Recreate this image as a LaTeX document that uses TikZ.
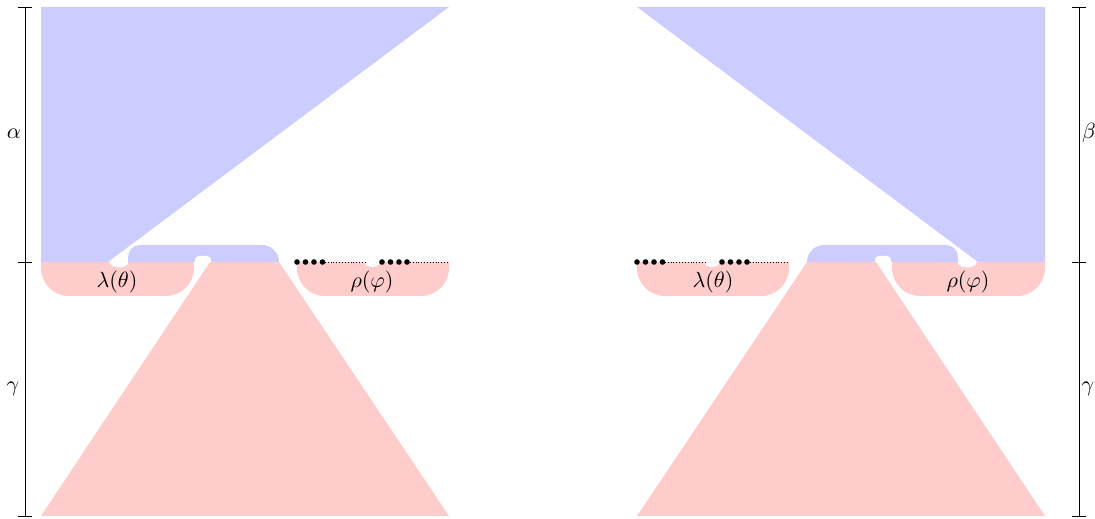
\documentclass[tikz,border=0pt]{standalone}
\definecolor{bl}{RGB}{204,204,255}
\definecolor{pk}{RGB}{255,204,204}
\tikzset{
  axisline/.style={line width=0.4pt},
  seam/.style={densely dotted, line width=0.3pt},
  lbl/.style={inner sep=0pt},
}
\newcommand\mkhalf{%
  % blue wedge
  \fill[bl] (41,7) -- (449,7) -- (108,262) -- (41,262) -- cycle;
  % blue bar
  \fill[bl] (128,262) -- (128,257) arc[start angle=180,end angle=270,radius=12]
     -- (262,245) arc[start angle=270,end angle=360,radius=17] -- cycle;
  % pink trapezoid
  \fill[pk] (210,262) -- (279,262) -- (449,516) -- (41,516) -- cycle;
  % white tab
  \fill[white] (195,262) -- (195,260) arc[start angle=180,end angle=270,radius=4]
     -- (207,256) arc[start angle=270,end angle=360,radius=4] -- (211,262) -- cycle;
  % white bulb
  \fill[white] (109.5,262) arc[start angle=180,end angle=0,x radius=9.5,y radius=5.5] -- cycle;
}
\begin{document}
\begin{tikzpicture}[x=0.4545pt,y=-0.4545pt]
\useasboundingbox (0,0) rectangle (1095,519);
% pink boxes
\fill[pk] (41,262) -- (41,268) arc[start angle=180,end angle=90,radius=28]
   -- (166,296) arc[start angle=90,end angle=0,radius=28] -- (194,262) -- cycle;
\fill[pk] (297,262) -- (297,268) arc[start angle=180,end angle=90,radius=28]
   -- (421,296) arc[start angle=90,end angle=0,radius=28] -- (449,262) -- cycle;
\fill[pk] (637,262) -- (637,268) arc[start angle=180,end angle=90,radius=28]
   -- (761,296) arc[start angle=90,end angle=0,radius=28] -- (789,262) -- cycle;
\fill[pk] (892,262) -- (892,268) arc[start angle=180,end angle=90,radius=28]
   -- (1017,296) arc[start angle=90,end angle=0,radius=28] -- (1045,262) -- cycle;
% mirrored halves
\mkhalf
\begin{scope}[shift={(1086,0)},xscale=-1]
  \mkhalf
\end{scope}
% notches and dots
\fill[white] (364.5,262) arc[start angle=180,end angle=0,x radius=7.5,y radius=5] -- cycle;
\fill[white] (704.5,262) arc[start angle=180,end angle=0,x radius=7.5,y radius=5] -- cycle;
\draw[seam] (322,262) -- (365,262);
\draw[seam] (407,262) -- (449,262);
\draw[seam] (662,262) -- (705,262);
\draw[seam] (747,262) -- (789,262);
\foreach \x in {297,305.5,314,322.5,382,390.5,399,407}{
  \fill (\x,262) circle[radius=2.8];
  \fill (\x+340,262) circle[radius=2.8];
}
% labels
\node[lbl] (lt1) at (117,282.5) {$\lambda(\theta)$};
\node[lbl] (rp1) at (372,282.5) {$\rho(\varphi)$};
\node[lbl] (lt2) at (713,282.5) {$\lambda(\theta)$};
\node[lbl] (rp2) at (968,282.5) {$\rho(\varphi)$};
% axes
\draw[axisline] (25,7) -- (25,516);
\foreach \y in {7,262,516} \draw[axisline] (18,\y) -- (32,\y);
\draw[axisline] (1079,7) -- (1079,516);
\foreach \y in {7,262,516} \draw[axisline] (1072,\y) -- (1086,\y);
\node[lbl] (al) at (14,134) {$\alpha$};
\node[lbl] (ga1) at (13,389) {$\gamma$};
\node[lbl] (be) at (1089,133) {$\beta$};
\node[lbl] (ga2) at (1088,389) {$\gamma$};
\end{tikzpicture}
\end{document}
